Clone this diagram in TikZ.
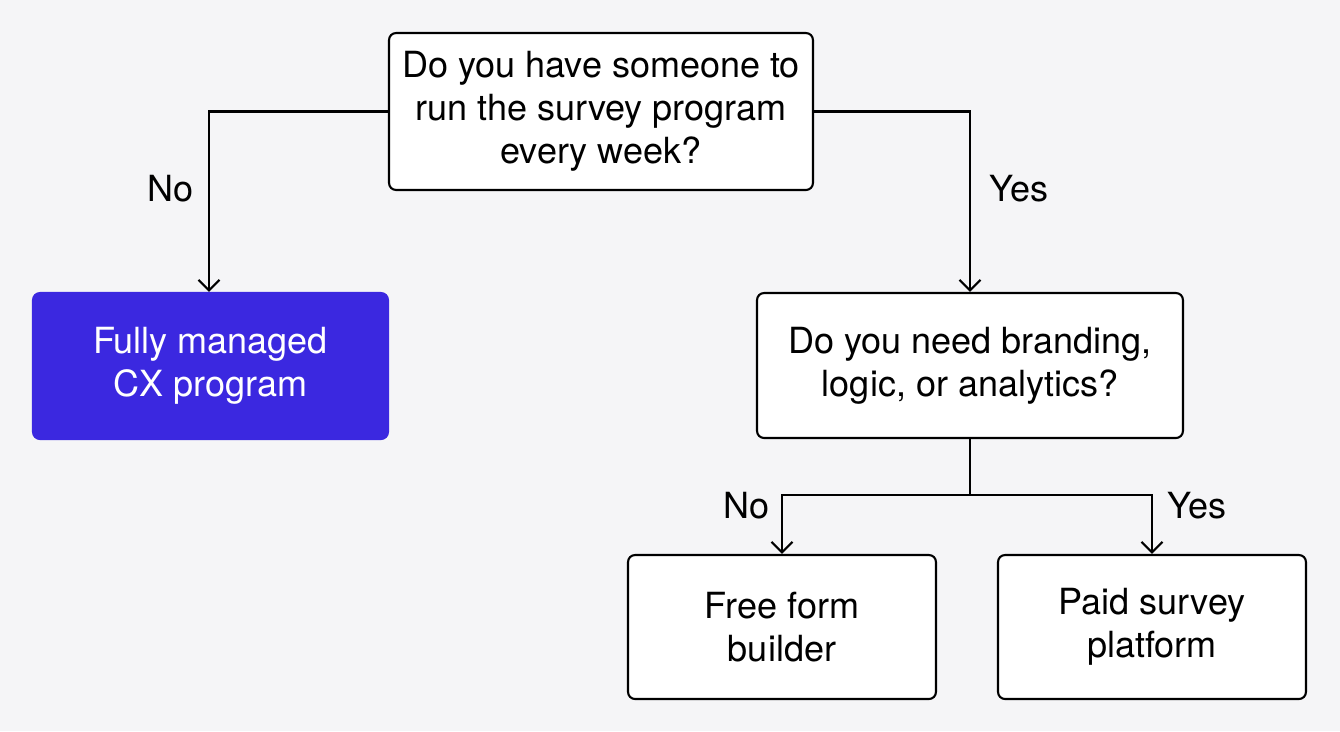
\documentclass[tikz,border=0pt]{standalone}
\usepackage{fontspec}
\setmainfont{TeX Gyre Heros}
\usetikzlibrary{arrows.meta,positioning}
\definecolor{bgcol}{HTML}{F5F5F7}
\definecolor{managed}{HTML}{3B28E0}
\tikzset{
    >={Straight Barb[length=6pt,width=12pt,line width=1.2pt]},
    question/.style={draw,rounded corners=4pt,fill=white,line width=1.2pt,align=center,
        font=\fontsize{20.5}{24.5}\selectfont,inner sep=0pt},
    label/.style={font=\fontsize{20.5}{24}\selectfont},
    link/.style={line width=1.2pt,->}
}
\begin{document}
\begin{tikzpicture}[x=0.02cm,y=-0.02cm]
    % background
    \fill[bgcol] (0,0) rectangle (1340,731);
    \useasboundingbox (0,0) rectangle (1340,731);

    % boxes
    \node[question,minimum width=8.48cm,minimum height=3.14cm] (top) at (601,111.5)
        {Do you have someone to\\run the survey program\\every week?};
    \node[question,draw=managed,fill=managed,text=white,minimum width=7.1cm,minimum height=2.92cm]
        (managed) at (210.5,366) {Fully managed\\CX program};
    \node[question,minimum width=8.52cm,minimum height=2.9cm] (needs) at (970,365.5)
        {Do you need branding,\\logic, or analytics?};
    \node[question,minimum width=6.16cm,minimum height=2.88cm] (free) at (782,627)
        {Free form\\builder};
    \node[question,minimum width=6.16cm,minimum height=2.88cm] (paid) at (1152,627)
        {Paid survey\\platform};

    % connectors
    \coordinate (split) at (970,495);
    \draw[link] (top.west) -| (managed.north -| 209,0);
    \draw[link] (top.east) -| (needs.north);
    \draw[line width=1.2pt] (needs.south) -- (split);
    \draw[link] (split) -| (free.north);
    \draw[link] (split) -| (paid.north);

    % labels
    \node[label] (no1) at (171,189) {No};
    \node[label] (yes1) at (1019,189) {Yes};
    \node[label] (no2) at (747,506) {No};
    \node[label] (yes2) at (1197,506) {Yes};
\end{tikzpicture}
\end{document}
